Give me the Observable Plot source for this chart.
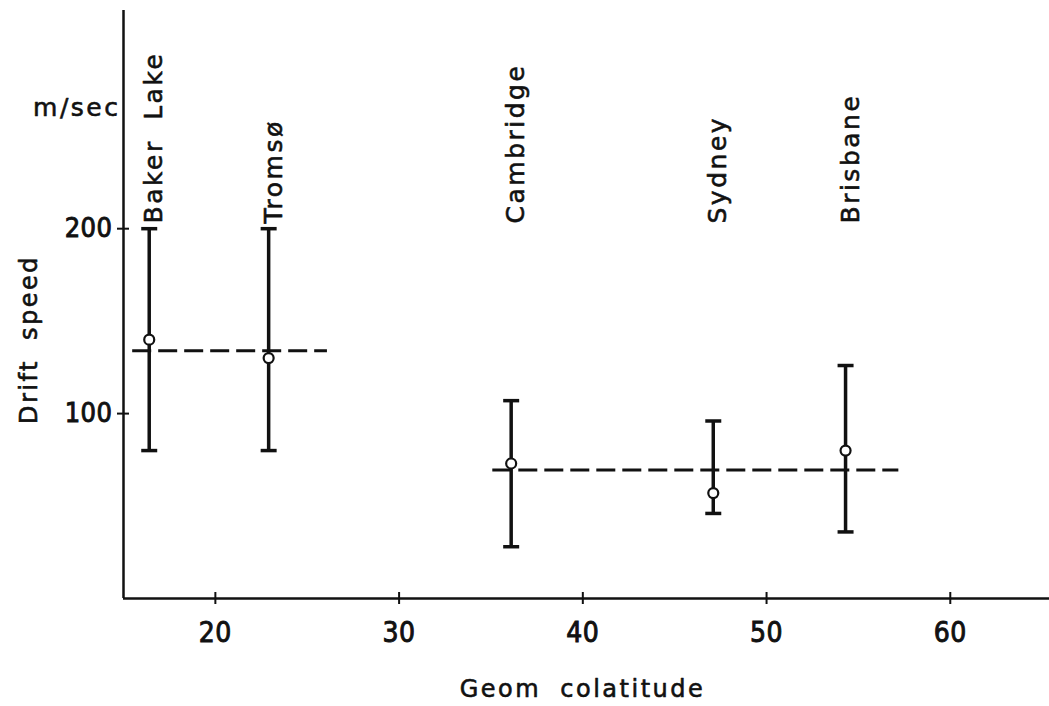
<!DOCTYPE html>
<html>
<head>
<meta charset="utf-8">
<script src="https://cdn.jsdelivr.net/npm/d3@7"></script>
<script src="https://cdn.jsdelivr.net/npm/@observablehq/plot@0.6"></script>
<style>
  html, body { margin: 0; padding: 0; background: #fff; }
  #chart svg { display: block; }
</style>
</head>
<body>
<div id="chart"></div>
<script>
// Data
const stations   = ["Baker Lake", "Tromsø", "Cambridge", "Sydney", "Brisbane"];
const colatitude = [16.4, 22.9, 36.1, 47.1, 54.3];
const speedMean  = [140, 130, 73, 57, 80];
const speedLow   = [80, 80, 28, 46, 36];
const speedHigh  = [200, 200, 107, 96, 126];

// Dashed group-average lines
const avgFrom  = [15.5, 35.1];
const avgTo    = [26.1, 57.2];
const avgSpeed = [134, 69.5];

const xTicks = [20, 30, 40, 50, 60];
const yTicks = [100, 200];

const rows = stations.map((s, i) => ({
  station: s, x: colatitude[i], mean: speedMean[i], lo: speedLow[i], hi: speedHigh[i]
}));
const ends = rows.flatMap(d => [{x: d.x, y: d.lo}, {x: d.x, y: d.hi}]);
const avgs = avgSpeed.map((v, i) => ({x1: avgFrom[i], x2: avgTo[i], y: v}));

const capSymbol = {
  draw(context, size) {
    const w = Math.sqrt(size / Math.PI);
    context.moveTo(-w, 0);
    context.lineTo(w, 0);
  }
};

const ink = "#111";
const labelFont = "'DejaVu Sans', sans-serif";
const tickFont = "'DejaVu Sans Condensed', 'DejaVu Sans', sans-serif";

const chart = Plot.plot({
  width: 1049,
  height: 706,
  marginLeft: 123,
  marginRight: 0,
  marginTop: 10,
  marginBottom: 108,
  x: {domain: [15, 65.4]},
  y: {domain: [0, 318]},
  style: {background: "#fff", color: ink},
  marks: [
    // axis lines
    Plot.ruleX([15], {stroke: ink, strokeWidth: 2.5}),
    Plot.ruleY([0], {stroke: ink, strokeWidth: 2.5}),
    // crossing ticks
    Plot.axisX(xTicks, {tickSize: 12, dy: -6, tickFormat: () => "", strokeWidth: 2, stroke: ink}),
    Plot.axisY(yTicks, {tickSize: 12, dx: 6, tickFormat: () => "", strokeWidth: 2, stroke: ink}),
    // tick labels
    Plot.axisX(xTicks, {tickSize: 0, tickPadding: 24, label: null, fontSize: 28, fontFamily: tickFont,
      fill: ink, className: "ticklabels"}),
    Plot.axisY(yTicks, {tickSize: 0, tickPadding: 11, label: null, fontSize: 27, fontFamily: tickFont,
      fill: ink, className: "ticklabels"}),
    // dashed averages
    Plot.ruleY(avgs, {x1: "x1", x2: "x2", y: "y", stroke: ink, strokeWidth: 3, strokeDasharray: "19,7"}),
    // error bars
    Plot.ruleX(rows, {x: "x", y1: "lo", y2: "hi", stroke: ink, strokeWidth: 3.5}),
    Plot.dot(ends, {x: "x", y: "y", r: 8, symbol: capSymbol, stroke: ink, strokeWidth: 3.5, fill: "none"}),
    // means
    Plot.dot(rows, {x: "x", y: "mean", r: 5, stroke: ink, strokeWidth: 2.2, fill: "#fff"}),
    // station labels
    Plot.text(rows, {x: "x", text: "station", frameAnchor: "top", dy: 213, dx: 5, rotate: -90,
      textAnchor: "start", lineAnchor: "middle", fontSize: 25, fontFamily: labelFont,
      fill: ink, stroke: ink, strokeWidth: 0.6}),
    // axis titles
    Plot.text(["m/sec"], {frameAnchor: "top-left", dx: -3, dy: 97, textAnchor: "end", lineAnchor: "middle",
      fontSize: 25, fontFamily: labelFont, fill: ink, stroke: ink, strokeWidth: 0.6}),
    Plot.text(["Drift speed"], {frameAnchor: "left", dx: -94, dy: 35, rotate: -90, textAnchor: "middle",
      lineAnchor: "middle", fontSize: 24, fontFamily: labelFont, fill: ink, stroke: ink, strokeWidth: 0.6}),
    Plot.text(["Geom colatitude"], {frameAnchor: "bottom", dx: -4, dy: 91, textAnchor: "middle",
      lineAnchor: "middle", fontSize: 24, fontFamily: labelFont, fill: ink, stroke: ink, strokeWidth: 0.6})
  ]
});

// letter and word spacing for the hand-lettered look
d3.select(chart).selectAll("text")
  .style("letter-spacing", "2.5px")
  .style("word-spacing", "9px");
// heavier tick numerals, as in the printed figure
d3.select(chart).selectAll("[aria-label$='tick label'] text, .ticklabels text")
  .attr("stroke", ink)
  .attr("stroke-width", 0.9)
  .style("letter-spacing", "0.5px");
document.getElementById("chart").append(chart);
</script>
</body>
</html>
